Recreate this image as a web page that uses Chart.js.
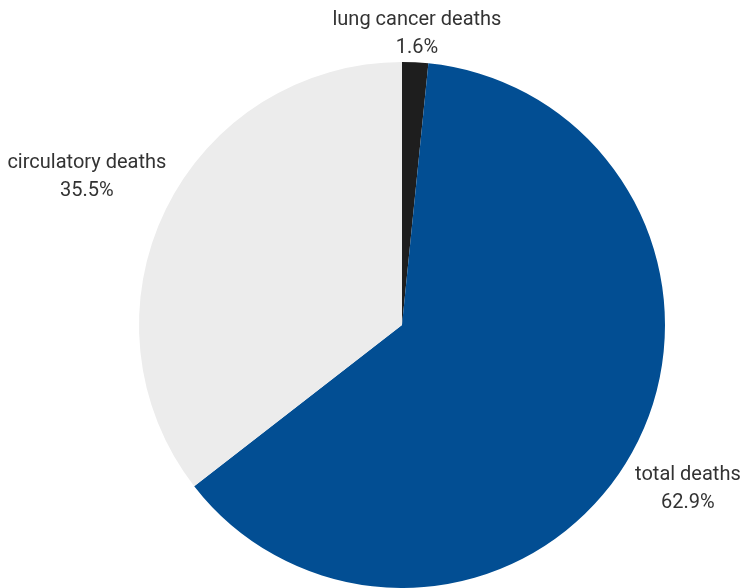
<!DOCTYPE html>
<html>
<head>
<meta charset="utf-8">
<script src="https://cdn.jsdelivr.net/npm/chart.js@4/dist/chart.umd.min.js"></script>
<style>
html,body{margin:0;padding:0;background:#fff;}
#wrap{width:747px;height:588px;position:relative;}
</style>
</head>
<body>
<div id="wrap"><canvas id="c"></canvas></div>
<script>
const categories = ["lung cancer deaths", "total deaths", "circulatory deaths"];
const shares = [1.6, 62.9, 35.5];
const colors = ["#1e1e1e", "#024e93", "#ececec"];

const outsideLabels = {
  id: 'outsideLabels',
  afterDatasetsDraw(chart) {
    const ctx = chart.ctx;
    const meta = chart.getDatasetMeta(0);
    ctx.save();
    ctx.font = '20px Roboto';
    ctx.fillStyle = '#333333';
    ctx.textAlign = 'center';
    ctx.textBaseline = 'middle';
    const lineH = 28;
    meta.data.forEach((arc, i) => {
      const p = arc.getProps(['x','y','startAngle','endAngle','outerRadius'], true);
      const mid = (p.startAngle + p.endAngle) / 2;
      const ux = Math.cos(mid), uy = Math.sin(mid);
      const l1 = chart.data.labels[i];
      const l2 = chart.data.datasets[0].data[i].toFixed(1) + '%';
      const w = Math.max(ctx.measureText(l1).width, ctx.measureText(l2).width);
      const h = lineH + 20;
      const ext = Math.abs(ux) * w / 2 + Math.abs(uy) * h / 2;
      const d = p.outerRadius + 6 + ext;
      const cx = p.x + ux * d, cy = p.y + uy * d + 6;
      ctx.fillText(l1, cx, cy - lineH / 2);
      ctx.fillText(l2, cx, cy + lineH / 2);
    });
    ctx.restore();
  }
};

new Chart(document.getElementById('c'), {
  type: 'pie',
  data: {
    labels: categories,
    datasets: [{
      data: shares,
      backgroundColor: colors,
      borderWidth: 0
    }]
  },
  options: {
    responsive: true,
    maintainAspectRatio: false,
    animation: false,
    layout: { padding: { left: 139, right: 82, top: 62, bottom: 0 } },
    plugins: { legend: { display: false }, tooltip: { enabled: false } }
  },
  plugins: [outsideLabels]
});
</script>
</body>
</html>
